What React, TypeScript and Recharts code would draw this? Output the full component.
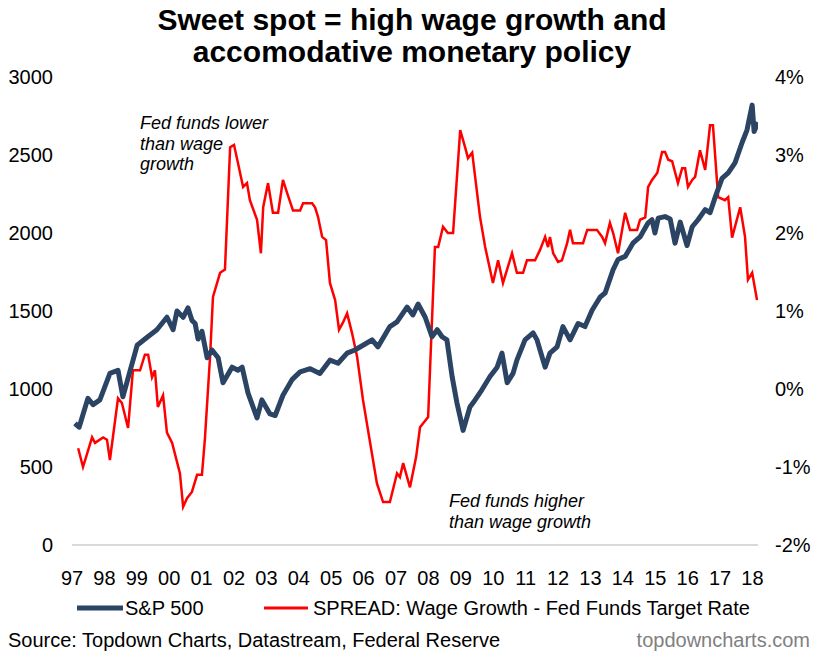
import React from "react";
import { LineChart, Line, XAxis, YAxis } from "recharts";

const spxYears = [
  1997.09, 1997.22, 1997.49, 1997.65, 1997.86, 1998.17, 1998.42, 1998.57, 1999.01, 1999.31,
  1999.62, 1999.93, 2000.12, 2000.24, 2000.43, 2000.58, 2000.7, 2000.8, 2000.89, 2001.01,
  2001.17, 2001.32, 2001.51, 2001.66, 2001.94, 2002.12, 2002.25, 2002.43, 2002.71, 2002.86,
  2003.11, 2003.27, 2003.51, 2003.79, 2004.04, 2004.35, 2004.65, 2004.96, 2005.21, 2005.49,
  2005.73, 2006.1, 2006.26, 2006.44, 2006.81, 2007.03, 2007.34, 2007.52, 2007.68, 2007.9,
  2008.11, 2008.27, 2008.42, 2008.57, 2008.73, 2008.88, 2009.07, 2009.28, 2009.44, 2009.65,
  2009.9, 2010.12, 2010.27, 2010.43, 2010.61, 2010.73, 2010.98, 2011.23, 2011.35, 2011.6,
  2011.75, 2011.97, 2012.15, 2012.37, 2012.62, 2012.83, 2013.05, 2013.3, 2013.45, 2013.7,
  2013.85, 2014.07, 2014.31, 2014.53, 2014.78, 2014.9, 2014.99, 2015.09, 2015.3, 2015.46,
  2015.61, 2015.77, 2015.98, 2016.14, 2016.32, 2016.54, 2016.69, 2016.85, 2017.06, 2017.25,
  2017.46, 2017.68, 2017.83, 2017.99, 2018.05, 2018.17,
];
const spxValues = [
  780, 755, 940, 900, 930, 1100, 1120, 950, 1280, 1330,
  1380, 1460, 1380, 1500, 1460, 1520, 1440, 1420, 1320, 1370,
  1200, 1250, 1200, 1040, 1140, 1120, 1140, 975, 815, 930,
  840, 830, 960, 1060, 1110, 1130, 1100, 1185, 1165, 1230,
  1250, 1295, 1315, 1270, 1400, 1430, 1525, 1475, 1545, 1460,
  1335, 1380, 1335, 1315, 1080, 910, 735, 885, 930, 995,
  1080, 1140, 1230, 1040, 1100, 1185, 1315, 1360, 1315, 1140,
  1230, 1270, 1400, 1315, 1420, 1400, 1505, 1590, 1615, 1765,
  1830, 1850, 1935, 1975, 2065, 2085, 2000, 2095, 2105, 2090,
  1935, 2070, 1920, 2040, 2085, 2150, 2130, 2230, 2350, 2385,
  2450, 2580, 2660, 2820, 2650, 2710,
];

const spreadYears = [
  1997.19, 1997.34, 1997.62, 1997.71, 1997.96, 1998.08, 1998.17, 1998.42, 1998.54, 1998.73,
  1998.88, 1999.1, 1999.25, 1999.35, 1999.47, 1999.56, 1999.65, 1999.81, 1999.93, 2000.09,
  2000.33, 2000.43, 2000.55, 2000.7, 2000.86, 2001.01, 2001.1, 2001.26, 2001.35, 2001.57,
  2001.72, 2001.88, 2002.0, 2002.12, 2002.28, 2002.4, 2002.49, 2002.71, 2002.83, 2002.9,
  2003.05, 2003.2, 2003.36, 2003.51, 2003.64, 2003.82, 2004.04, 2004.13, 2004.41, 2004.5,
  2004.59, 2004.72, 2004.84, 2004.96, 2005.12, 2005.24, 2005.36, 2005.49, 2005.64, 2005.8,
  2005.98, 2006.2, 2006.41, 2006.6, 2006.81, 2007.03, 2007.12, 2007.22, 2007.34, 2007.43,
  2007.62, 2007.74, 2007.99, 2008.2, 2008.3, 2008.45, 2008.6, 2008.76, 2008.98, 2009.13,
  2009.22, 2009.35, 2009.59, 2009.75, 2009.99, 2010.15, 2010.3, 2010.58, 2010.73, 2010.92,
  2011.04, 2011.29, 2011.44, 2011.6, 2011.69, 2011.75, 2011.85, 2012.0, 2012.12, 2012.28,
  2012.37, 2012.46, 2012.77, 2012.9, 2013.2, 2013.36, 2013.45, 2013.6, 2013.7, 2013.85,
  2014.07, 2014.22, 2014.44, 2014.53, 2014.69, 2014.78, 2014.9, 2015.06, 2015.21, 2015.3,
  2015.4, 2015.52, 2015.7, 2015.83, 2015.92, 2016.01, 2016.14, 2016.23, 2016.38, 2016.54,
  2016.69, 2016.78, 2016.94, 2017.15, 2017.25, 2017.37, 2017.62, 2017.77, 2017.86, 2017.99,
  2018.14,
];
const spreadValues = [
  -0.76, -1.0, -0.62, -0.69, -0.62, -0.65, -0.91, -0.12, -0.18, -0.5,
  0.24, 0.24, 0.44, 0.44, 0.15, 0.24, -0.23, -0.08, -0.56, -0.69,
  -1.08, -1.51, -1.4, -1.32, -1.1, -1.1, -0.65, 0.41, 1.18, 1.49,
  1.53, 3.1, 3.13, 2.9, 2.59, 2.64, 2.42, 2.17, 1.74, 2.33,
  2.64, 2.26, 2.26, 2.68, 2.51, 2.29, 2.29, 2.38, 2.38, 2.33,
  2.21, 1.95, 1.91, 1.36, 1.14, 0.76, 0.85, 0.97, 0.72, 0.41,
  -0.14, -0.69, -1.21, -1.45, -1.45, -1.08, -1.13, -0.95, -1.13, -1.26,
  -0.87, -0.49, -0.36, 1.82, 1.82, 2.08, 2.0, 2.0, 3.32, 3.1,
  2.96, 3.03, 2.21, 1.82, 1.36, 1.65, 1.36, 1.74, 1.49, 1.49,
  1.65, 1.65, 1.78, 1.95, 1.82, 1.95, 1.74, 1.63, 1.65, 1.87,
  2.04, 1.87, 1.87, 2.04, 2.04, 1.95, 1.87, 2.13, 2.0, 1.74,
  2.26, 2.04, 2.04, 2.17, 2.2, 2.59, 2.68, 2.77, 3.04, 3.04,
  2.94, 2.92, 2.64, 2.83, 2.83, 2.59, 2.68, 2.72, 3.06, 2.81,
  3.38, 3.38, 2.46, 2.42, 2.46, 1.94, 2.33, 1.95, 1.4, 1.49,
  1.14,
];

const yearTicks = [
  1997, 1998, 1999, 2000, 2001, 2002, 2003, 2004, 2005, 2006, 2007,
  2008, 2009, 2010, 2011, 2012, 2013, 2014, 2015, 2016, 2017, 2018,
];
const leftTicks = [0, 500, 1000, 1500, 2000, 2500, 3000];
const rightTicks = [-2, -1, 0, 1, 2, 3, 4];

const titleLines = ["Sweet spot = high wage growth and", "accomodative monetary policy"];
const noteLower = ["Fed funds lower", "than wage", "growth"];
const noteHigher = ["Fed funds higher", "than wage growth"];
const spxName = "S&P 500";
const spreadName = "SPREAD: Wage Growth - Fed Funds Target Rate";
const sourceText = "Source: Topdown Charts, Datastream, Federal Reserve";
const siteText = "topdowncharts.com";

const FONT = "'Liberation Sans', Arial, Helvetica, sans-serif";
const SPX_COLOR = "#2c4464";
const SPREAD_COLOR = "#ff0000";

const spxData = spxYears.map((t, i) => ({ t, v: spxValues[i] }));
const spreadData = spreadYears.map((t, i) => ({ t, v: spreadValues[i] }));

export default function App() {
  const W = 819;
  const H = 657;
  return (
    <div style={{ position: "absolute", left: 0, top: 0, width: W, height: H, background: "#fff", fontFamily: FONT }}>
      <div style={{ position: "absolute", left: 0, top: 0 }}>
        <LineChart width={W} height={H} margin={{ top: 77, right: 1, bottom: 82, left: 12 }}>
          <XAxis
            xAxisId="x"
            type="number"
            dataKey="t"
            domain={[1997, 2018.17]}
            ticks={yearTicks}
            allowDataOverflow
            tickFormatter={(v: number) => String(v).slice(2)}
            tick={{ fill: "#000", fontSize: 20, fontFamily: FONT }}
            tickLine={false}
            tickSize={0}
            tickMargin={26}
            height={30}
            axisLine={{ stroke: "#d9d9d9", strokeWidth: 2 }}
            interval={0}
          />
          <YAxis
            yAxisId="left"
            orientation="left"
            domain={[0, 3000]}
            ticks={leftTicks}
            width={60}
            axisLine={false}
            tickLine={false}
            tickSize={0}
            tickMargin={19}
            tick={{ fill: "#000", fontSize: 20, fontFamily: FONT }}
            interval={0}
          />
          <YAxis
            yAxisId="right"
            orientation="right"
            domain={[-2, 4]}
            ticks={rightTicks}
            width={60}
            axisLine={false}
            tickLine={false}
            tickSize={0}
            tickMargin={17}
            tickFormatter={(v: number) => `${v}%`}
            tick={{ fill: "#000", fontSize: 20, fontFamily: FONT }}
            interval={0}
          />
          <Line
            xAxisId="x"
            yAxisId="right"
            data={spreadData}
            dataKey="v"
            type="linear"
            stroke={SPREAD_COLOR}
            strokeWidth={2.5}
            dot={false}
            activeDot={false}
            isAnimationActive={false}
          />
          <Line
            xAxisId="x"
            yAxisId="left"
            data={spxData}
            dataKey="v"
            type="linear"
            stroke={SPX_COLOR}
            strokeWidth={5}
            strokeLinejoin="round"
            dot={false}
            activeDot={false}
            isAnimationActive={false}
          />
        </LineChart>
      </div>
      <svg
        width={W}
        height={H}
        style={{ position: "absolute", left: 0, top: 0, pointerEvents: "none" }}
        fontFamily={FONT}
      >
        <text x={412} y={30} textAnchor="middle" fontSize={30} fontWeight="bold" fill="#000">
          {titleLines[0]}
        </text>
        <text x={412} y={62} textAnchor="middle" fontSize={30} fontWeight="bold" fill="#000">
          {titleLines[1]}
        </text>
        {noteLower.map((s, i) => (
          <text key={s} x={140} y={129 + i * 20.5} fontSize={18} fontStyle="italic" fill="#000">
            {s}
          </text>
        ))}
        {noteHigher.map((s, i) => (
          <text key={s} x={449} y={507 + i * 21} fontSize={18} fontStyle="italic" fill="#000">
            {s}
          </text>
        ))}
        <line x1={77} y1={608} x2={123} y2={608} stroke={SPX_COLOR} strokeWidth={5} />
        <text x={125} y={615} fontSize={20} fill="#000">{spxName}</text>
        <line x1={264} y1={608} x2={308} y2={608} stroke={SPREAD_COLOR} strokeWidth={3} />
        <text x={313} y={615} fontSize={20} fill="#000">{spreadName}</text>
        <text x={8} y={647} fontSize={20} fill="#000">{sourceText}</text>
        <text x={810} y={647} fontSize={20} textAnchor="end" fill="#808080">{siteText}</text>
      </svg>
    </div>
  );
}
